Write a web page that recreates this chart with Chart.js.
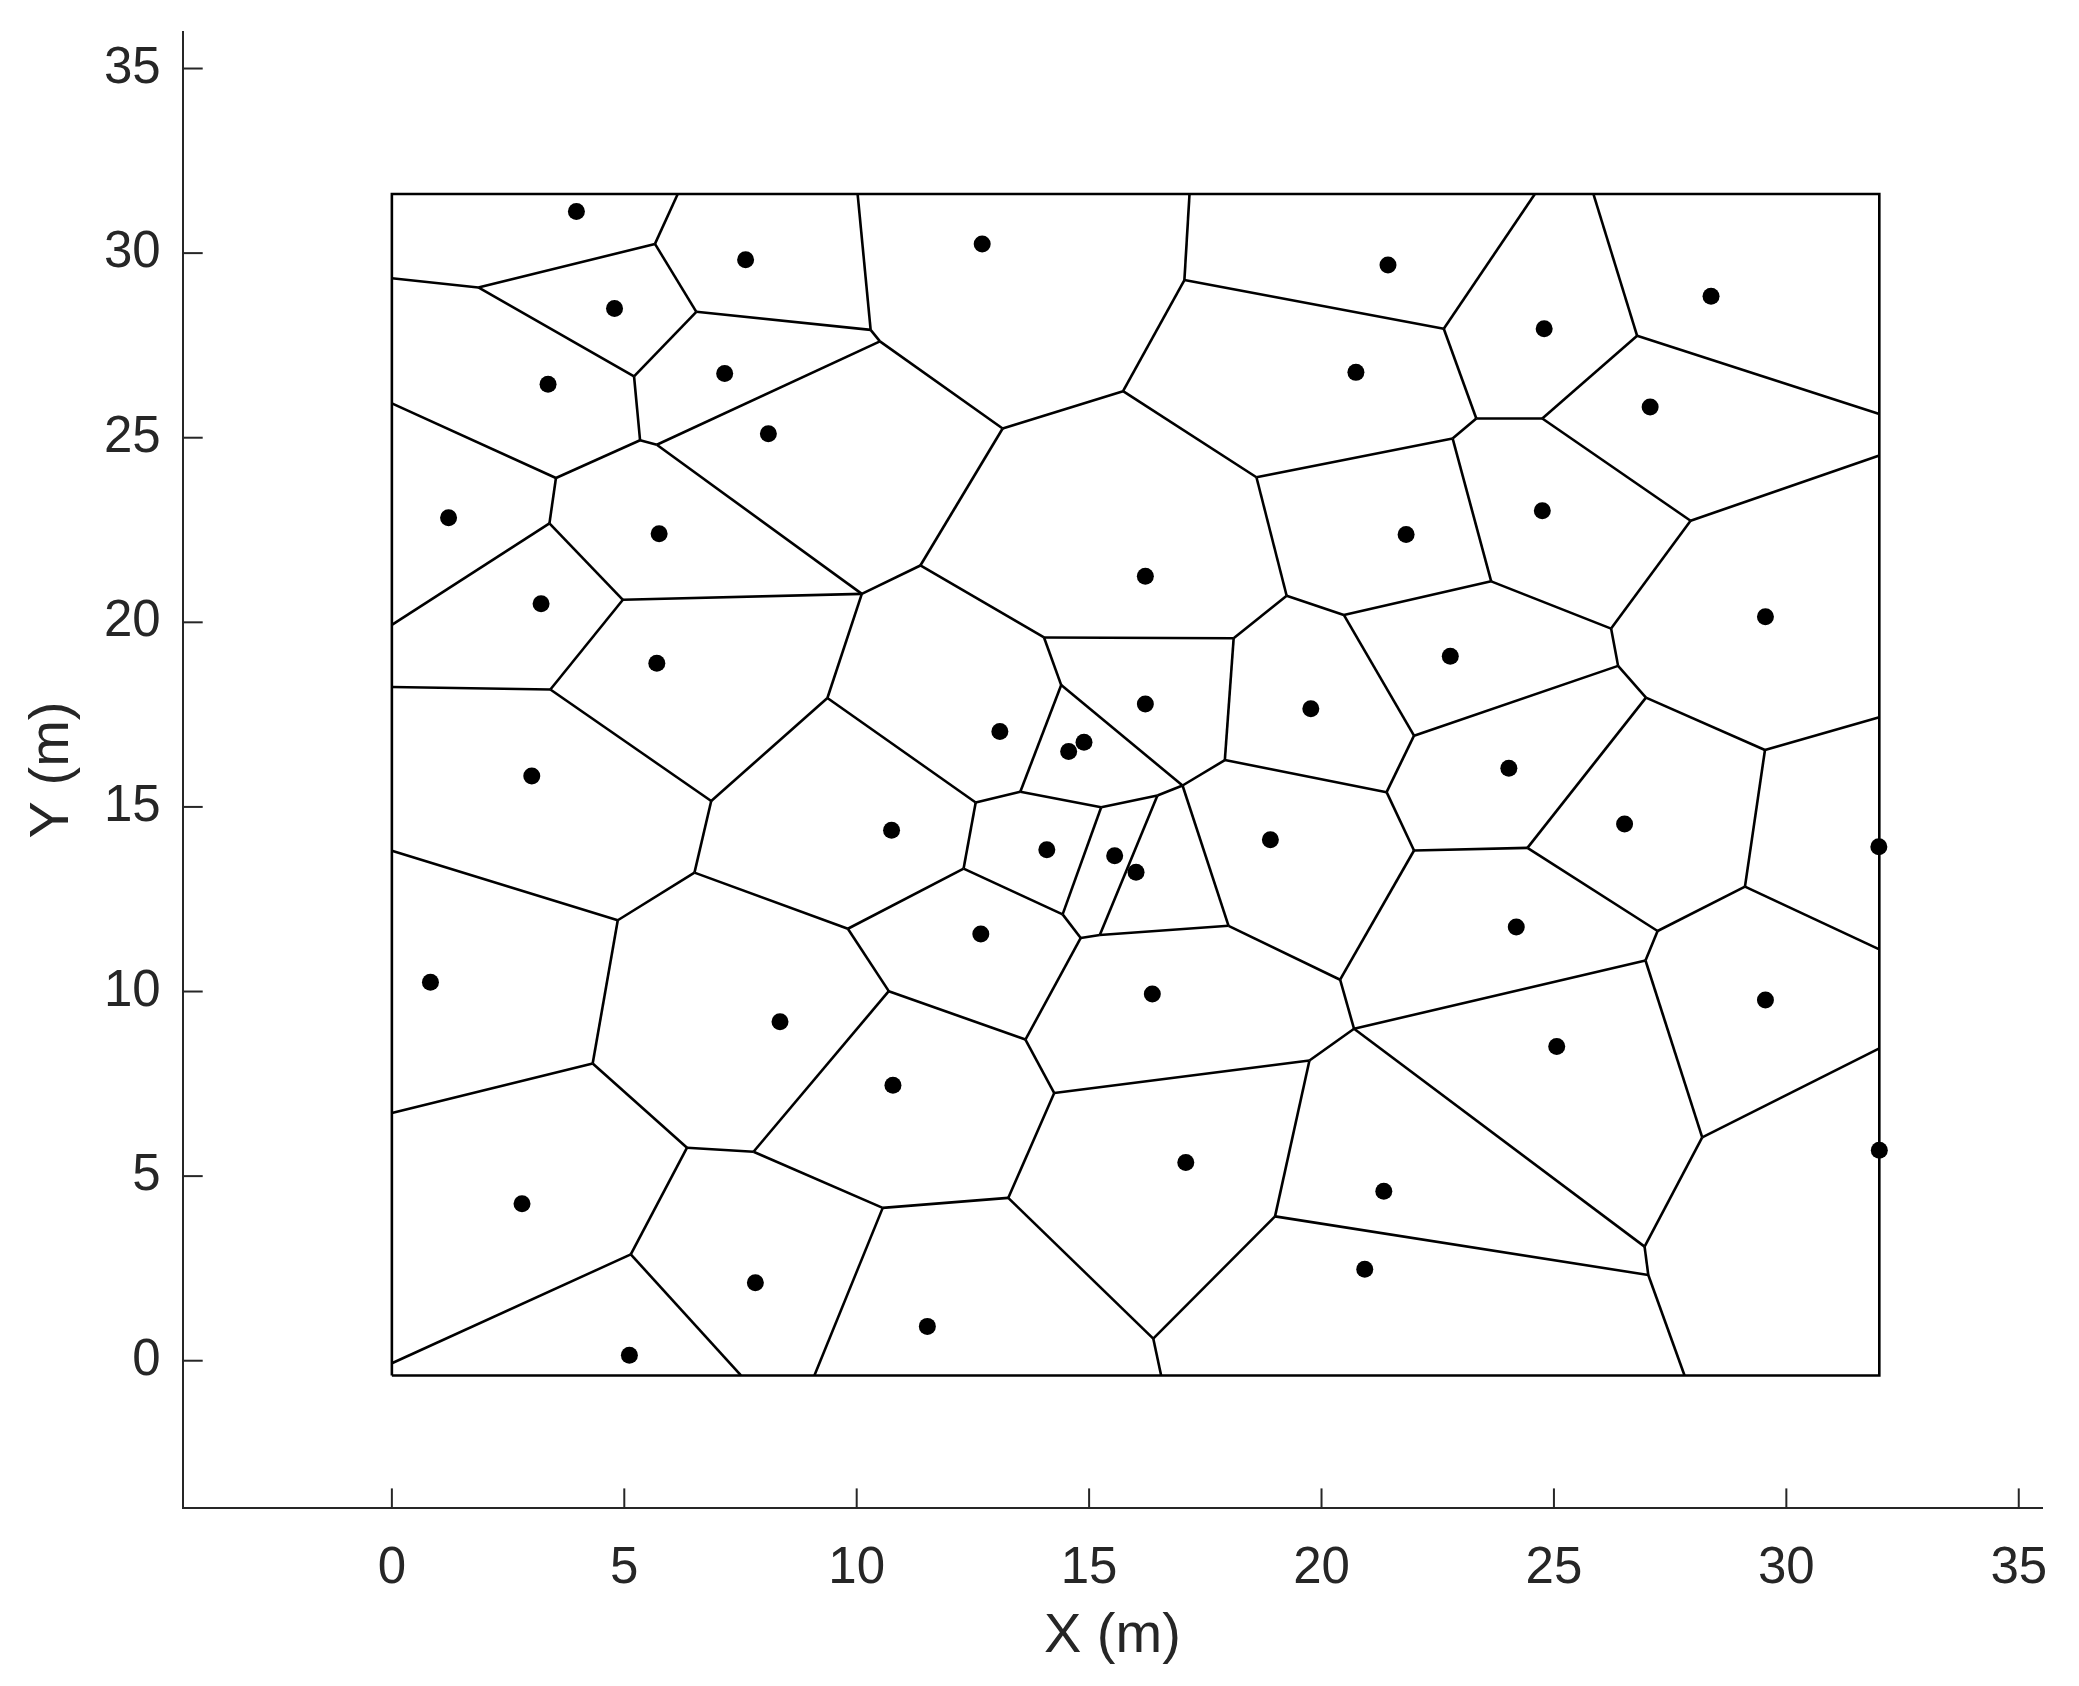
<!DOCTYPE html>
<html>
<head>
<meta charset="utf-8">
<title>Voronoi cells</title>
<script src="https://cdn.jsdelivr.net/npm/chart.js@4.4.1/dist/chart.umd.min.js"></script>
<style>
  html, body { margin: 0; padding: 0; background: #fff; }
  #chart-container { width: 2079px; height: 1686px; }
</style>
</head>
<body>
<div id="chart-container"><canvas id="voronoi" width="2079" height="1686"></canvas></div>
<script>
// Axis ticks
const xTickValues = [0, 5, 10, 15, 20, 25, 30, 35];
const yTickValues = [0, 5, 10, 15, 20, 25, 30, 35];

// Sensor sites (black blobs)
const siteX = [3.97, 7.61, 4.79, 3.36, 7.16, 8.10, 1.22, 5.75, 3.21, 5.70, 3.01,
  12.70, 21.43, 20.74, 21.82, 16.21, 13.08, 16.21, 19.77, 14.56, 14.89,
  24.79, 28.38, 27.07, 24.75, 29.55, 22.77, 24.03,
  10.75, 0.83, 8.35, 10.78, 2.80, 7.82, 5.11,
  14.09, 15.55, 16.01, 18.90, 12.67, 16.36, 17.08, 21.34, 20.93, 11.52,
  26.52, 31.99, 24.19, 29.55, 25.06, 32.00];
const siteY = [31.13, 29.82, 28.50, 26.45, 26.74, 25.11, 22.83, 22.40, 20.50, 18.89, 15.84,
  30.25, 29.68, 26.77, 22.38, 21.25, 17.04, 17.79, 17.66, 16.50, 16.75,
  27.95, 28.83, 25.83, 23.02, 20.15, 19.08, 16.05,
  14.37, 10.25, 9.18, 7.46, 4.25, 2.11, 0.15,
  13.84, 13.68, 13.23, 14.11, 11.56, 9.93, 5.37, 4.59, 2.48, 0.93,
  14.54, 13.92, 11.75, 9.77, 8.51, 5.70];

// Bounding box of the area
const boxX = [0, 32, 32, 0, 0];
const boxY = [-0.4, -0.4, 31.6, 31.6, -0.4];

// Voronoi vertices
const vertexNames = ["t1", "G", "V0", "W0", "W5t", "C", "J", "O", "R", "Z3", "Z8L", "Z10L",
  "Z10B", "Z11B", "Y18B", "Y26B", "W6", "W9", "W16", "Y22R", "Y24R",
  "B", "D", "E", "F", "H", "I", "K", "L", "M", "N", "P", "Q", "S", "T",
  "V1", "V2", "V3", "V4", "V5", "V6", "V7", "V8", "V9", "V10", "V11", "V12", "V13", "V14",
  "W2", "W3", "W4", "W5", "W7", "W8", "W10", "W11", "W12", "W13", "W14", "W15",
  "Z1", "Z2", "Z4", "Z5", "Z6", "Z7", "Z8", "Z9", "Z10", "Z11",
  "Y1", "Y3", "Y4", "Y6", "Y7", "Y8", "Y9", "Y10", "Y11", "Y12", "Y13", "Y14", "Y15",
  "Y16", "Y17", "Y18", "Y19", "Y20", "Y21", "Y22", "Y23", "Y24", "Y25", "Y26"];
const vertexX = [6.15, 10.02, 17.16, 24.59, 25.85, 0, 0, 0, 0, 0, 0, 0,
  7.51, 9.09, 16.55, 27.81, 32, 32, 32, 32, 32,
  5.66, 1.86, 6.55, 10.30, 10.50, 5.21, 5.34, 5.70, 3.53, 3.39, 4.97, 10.11, 3.41, 9.37,
  17.05, 15.73, 13.14, 11.37, 14.03, 18.11, 19.25, 18.60, 20.48, 14.40, 13.52, 17.01, 17.92, 21.40,
  22.63, 23.33, 24.75, 26.79, 22.82, 27.94, 23.65, 26.23, 26.38, 26.98, 21.99, 29.54,
  6.87, 6.51, 4.86, 9.81, 10.69, 7.78, 4.32, 6.35, 5.14, 10.56,
  12.56, 15.26, 16.47, 15.23, 18.00, 14.43, 14.82, 12.30, 13.63, 14.25, 19.74, 20.70, 20.40,
  21.99, 13.26, 16.38, 19.00, 24.43, 27.23, 29.11, 26.97, 28.19, 26.95, 27.03];
const vertexY = [31.6, 31.6, 31.6, 31.6, 31.6, 29.32, 25.93, 19.93, 18.25, 13.81, 6.71, -0.07,
  -0.4, -0.4, -0.4, -0.4, 25.64, 24.52, 17.43, 11.14, 8.46,
  30.25, 29.07, 28.41, 27.92, 27.61, 26.66, 24.93, 24.81, 23.91, 22.68, 20.61, 20.77, 18.18, 17.95,
  29.27, 26.26, 25.25, 21.54, 19.59, 19.57, 20.72, 23.93, 20.20, 18.30, 15.41, 15.58, 16.27, 15.40,
  27.95, 25.52, 25.52, 27.76, 24.98, 22.75, 21.11, 19.83, 18.82, 17.96, 16.93, 16.54,
  15.16, 13.22, 11.93, 11.70, 10.01, 5.66, 8.05, 5.77, 2.88, 4.14,
  15.12, 14.99, 15.31, 11.53, 11.78, 12.09, 11.45, 13.33, 8.70, 7.25, 8.13, 8.99, 10.32,
  13.82, 4.41, 0.60, 3.91, 13.89, 11.64, 12.84, 10.84, 6.05, 3.09, 2.32];

// Voronoi edges (pairs of vertex names)
const edgeFrom = ["t1", "C", "D", "B", "E", "F", "F", "D", "I", "I", "K", "K", "J", "M", "N", "N", "P", "L", "L", "P", "R", "S", "Q", "T", "T", "Q", "H",
  "V0", "V1", "V2", "V3", "V4", "V5", "V6", "V7", "V8", "V1", "V8", "V7", "V9", "V9", "V5", "V10", "V10", "V6", "V13", "V13", "V14", "V14", "V11", "V11",
  "W0", "W2", "W3", "W3", "W7", "W4", "W5", "W5", "W4", "W8", "W8", "W10", "W11", "W12", "W12", "W13", "W13", "W15", "W15",
  "Z1", "Z2", "Z2", "Z3", "Z4", "Z8", "Z8", "Z9", "Z9", "Z10", "Z10", "Z7", "Z7", "Z11", "Z11", "Z5", "Z5", "Z6",
  "Y1", "Y10", "Y8", "Y3", "Y4", "Y4", "Y8", "Y9", "Y6", "Y7", "Y9", "Y7", "Y15", "Y15", "Y16", "Y11", "Y12", "Y12", "Y13", "Y13",
  "Y17", "Y18", "Y18", "Y19", "Y14", "Y14", "Y20", "Y21", "Y21", "Y22", "Y23", "Y24", "Y24", "Y25", "Y26"];
const edgeTo = ["B", "D", "B", "E", "F", "G", "H", "I", "E", "K", "L", "M", "M", "N", "O", "P", "Q", "Q", "H", "S", "S", "Z1", "T", "Z1", "Y1", "V4", "V3",
  "V1", "V2", "V3", "V4", "V5", "V6", "V7", "V8", "V2", "W2", "W7", "V9", "W10", "W14", "V10", "V11", "V12", "V13", "V12", "V14", "W14", "Y16", "Y1", "Y3",
  "W2", "W3", "W4", "W7", "W10", "W5", "W5t", "W6", "W8", "W9", "W11", "W11", "W12", "W13", "W14", "W15", "Y20", "W16", "Y22",
  "Z2", "Z4", "Z5", "Z4", "Z8", "Z8L", "Z9", "Z7", "Z10", "Z10L", "Z10B", "Z6", "Z11", "Z11B", "Y17", "Z6", "Y10", "Y11",
  "Y10", "Y8", "Y3", "Y4", "V12", "Y6", "Y9", "Y6", "Y7", "V12", "Y11", "Y15", "Y14", "Y16", "Y20", "Y12", "Y13", "Y17", "Y14", "Y19",
  "Y18", "Y18B", "Y19", "Y26", "Y23", "Y25", "Y21", "Y22", "Y23", "Y22R", "Y24", "Y24R", "Y25", "Y26", "Y26B"];

const axisColor = "#262626";
const fontFamily = "'Liberation Sans', Arial, Helvetica, sans-serif";

const vertexPoint = (name) => {
  const i = vertexNames.indexOf(name);
  return { x: vertexX[i], y: vertexY[i] };
};

// one line dataset per Voronoi edge
const edgeDatasets = edgeFrom.map((from, i) => ({
  type: "line",
  data: [vertexPoint(from), vertexPoint(edgeTo[i])],
  borderColor: "#000000",
  borderWidth: 2.6,
  pointRadius: 0,
  fill: false,
  tension: 0,
}));

const boxDataset = {
  type: "line",
  data: boxX.map((x, i) => ({ x: x, y: boxY[i] })),
  borderColor: "#000000",
  borderWidth: 2.6,
  pointRadius: 0,
  fill: false,
  tension: 0,
};

const siteDataset = {
  type: "scatter",
  data: siteX.map((x, i) => ({ x: x, y: siteY[i] })),
  backgroundColor: "#000000",
  borderWidth: 0,
  pointRadius: 8.5,
};

// MATLAB style ticks pointing into the axes
const inwardTicks = {
  id: "inwardTicks",
  afterDraw(chart) {
    const { ctx, scales } = chart;
    const x = scales.x;
    const y = scales.y;
    ctx.save();
    ctx.strokeStyle = axisColor;
    ctx.lineWidth = 2;
    xTickValues.forEach((v) => {
      const px = x.getPixelForValue(v);
      ctx.beginPath();
      ctx.moveTo(px, x.top);
      ctx.lineTo(px, x.top - 20);
      ctx.stroke();
    });
    yTickValues.forEach((v) => {
      const py = y.getPixelForValue(v);
      ctx.beginPath();
      ctx.moveTo(y.right, py);
      ctx.lineTo(y.right + 20, py);
      ctx.stroke();
    });
    ctx.restore();
  },
};

const ctx = document.getElementById("voronoi").getContext("2d");
new Chart(ctx, {
  type: "scatter",
  data: {
    datasets: [siteDataset, boxDataset, ...edgeDatasets],
  },
  options: {
    responsive: false,
    animation: false,
    devicePixelRatio: 1,
    layout: { padding: { left: 0, right: 37, top: 31.6, bottom: 0 } },
    plugins: {
      legend: { display: false },
      tooltip: { enabled: false },
    },
    scales: {
      x: {
        type: "linear",
        min: -4.5,
        max: 35.5,
        afterBuildTicks: (scale) => {
          scale.ticks = xTickValues.map((v) => ({ value: v }));
        },
        afterFit: (scale) => {
          scale.height = 177.6;
          scale.paddingLeft = 0;
          scale.paddingRight = 0;
        },
        grid: { drawOnChartArea: false, drawTicks: false, color: "rgba(0,0,0,0)" },
        border: { display: true, color: axisColor, width: 2 },
        ticks: {
          autoSkip: false,
          maxRotation: 0,
          padding: 30,
          color: axisColor,
          font: { family: fontFamily, size: 51 },
        },
        title: {
          display: true,
          text: "X (m)",
          color: axisColor,
          font: { family: fontFamily, size: 56 },
          padding: { top: 0, bottom: 16 },
        },
      },
      y: {
        type: "linear",
        min: -4,
        max: 36,
        afterBuildTicks: (scale) => {
          scale.ticks = yTickValues.map((v) => ({ value: v }));
        },
        afterFit: (scale) => {
          scale.width = 182.7;
          scale.paddingTop = 0;
          scale.paddingBottom = 0;
        },
        grid: { drawOnChartArea: false, drawTicks: false, color: "rgba(0,0,0,0)" },
        border: { display: true, color: axisColor, width: 2 },
        ticks: {
          autoSkip: false,
          padding: 22,
          color: axisColor,
          font: { family: fontFamily, size: 51 },
        },
        title: {
          display: true,
          text: "Y (m)",
          color: axisColor,
          font: { family: fontFamily, size: 56 },
          padding: { top: 19, bottom: 0 },
        },
      },
    },
  },
  plugins: [inwardTicks],
});
</script>
</body>
</html>
